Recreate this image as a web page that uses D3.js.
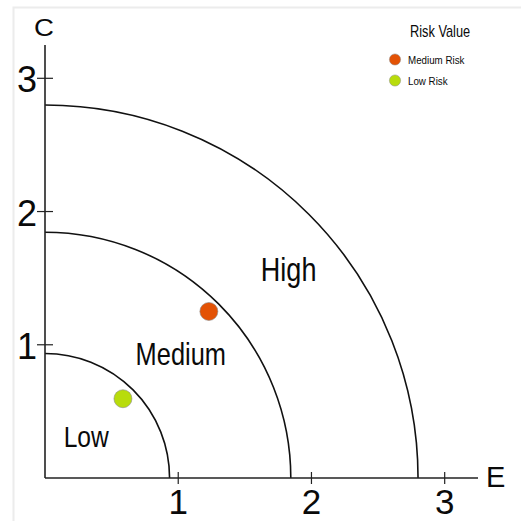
<!DOCTYPE html>
<html><head><meta charset="utf-8">
<script src="https://cdn.jsdelivr.net/npm/d3@7"></script>
<style>body{margin:0;background:#fff}svg{display:block}text{font-family:"Liberation Sans",Arial,sans-serif;fill:#0a0a0a}</style>
</head><body>
<script>
const zoneNames = ["Low", "Medium", "High"];
const zoneRadii = [0.935, 1.845, 2.8];
const zoneLabelPos = [[0.14, 0.23], [0.68, 0.85], [1.62, 1.48]];
const zoneFontSize = [30, 31, 33];
const pointNames = ["Medium Risk", "Low Risk"];
const pointE = [1.23, 0.585];
const pointC = [1.25, 0.595];
const pointColors = ["#e35205", "#b8dc0c"];
const tickValues = [1, 2, 3];
const tickLabels = ["1", "2", "3"];
const legendTitle = "Risk Value";
const xTitle = "E", yTitle = "C";

const W = 521, H = 521;
const svg = d3.select("body").append("svg").attr("width", W).attr("height", H);

// faint page frame
svg.append("path").attr("d", "M13.5,521V7.5H521").attr("fill", "none").attr("stroke", "#ececec").attr("stroke-width", 2);

const x = d3.scaleLinear().domain([0, 3.25]).range([45, 478]);
const y = d3.scaleLinear().domain([0, 3.25]).range([478, 45]);

// zones (quarter circles)
zoneRadii.forEach(r => {
  const p = d3.path();
  const R = x(r) - x(0);
  p.arc(x(0), y(0), R, -Math.PI / 2, 0);
  svg.append("path").attr("d", p.toString()).attr("fill", "none").attr("stroke", "#111").attr("stroke-width", 1.6);
});

// axes
svg.append("line").attr("x1", x(0)).attr("x2", x(3.25)).attr("y1", y(0)).attr("y2", y(0)).attr("stroke", "#222").attr("stroke-width", 1.6);
svg.append("line").attr("x1", x(0)).attr("x2", x(0)).attr("y1", y(0)).attr("y2", y(3.25)).attr("stroke", "#222").attr("stroke-width", 1.6);

tickValues.forEach((v, i) => {
  svg.append("line").attr("x1", x(v)).attr("x2", x(v)).attr("y1", y(0) - 6).attr("y2", y(0) + 6).attr("stroke", "#222").attr("stroke-width", 1.2);
  svg.append("text").attr("x", x(v)).attr("y", 514).attr("text-anchor", "middle").attr("font-size", 35).text(tickLabels[i]);
  svg.append("line").attr("x1", x(0) - 8).attr("x2", x(0) + 8).attr("y1", y(v)).attr("y2", y(v)).attr("stroke", "#222").attr("stroke-width", 1.2);
  svg.append("text").attr("x", 37).attr("y", y(v) + 14).attr("text-anchor", "end").attr("font-size", 36).text(tickLabels[i]);
});

svg.append("text").attr("x", 486).attr("y", 487).attr("font-size", 29).text(xTitle);
svg.append("text").attr("transform", "translate(44,36) scale(1.2,1)").attr("text-anchor", "middle").attr("font-size", 23).text(yTitle);

// zone labels
zoneNames.forEach((n, i) => {
  svg.append("text")
    .attr("transform", `translate(${x(zoneLabelPos[i][0])},${y(zoneLabelPos[i][1])}) scale(0.82,1)`)
    .attr("font-size", zoneFontSize[i]).text(n);
});

// points
pointNames.forEach((n, i) => {
  svg.append("circle").attr("cx", x(pointE[i])).attr("cy", y(pointC[i])).attr("r", 9)
    .attr("fill", pointColors[i]).attr("stroke", "#8a8a8a").attr("stroke-width", 0.6);
});

// legend
svg.append("text").attr("transform", "translate(410,37) scale(0.8,1)").attr("font-size", 16).text(legendTitle);
pointNames.forEach((n, i) => {
  const ly = 59.5 + i * 21;
  svg.append("circle").attr("cx", 395).attr("cy", ly).attr("r", 5.6).attr("fill", pointColors[i]).attr("stroke", "#8a8a8a").attr("stroke-width", 0.5);
  svg.append("text").attr("transform", `translate(408,${ly + 4}) scale(0.85,1)`).attr("font-size", 11.5).text(n);
});
</script>
</body></html>
